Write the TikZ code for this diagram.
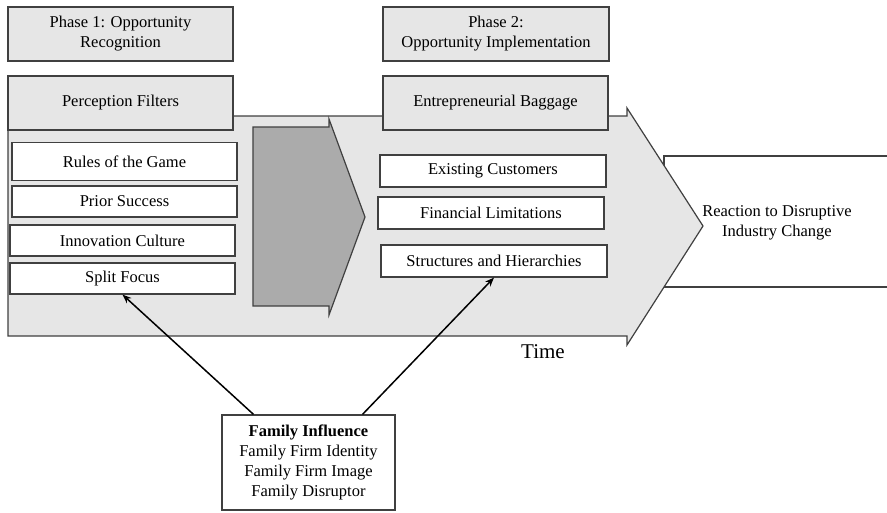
\documentclass[tikz,border=0pt]{standalone}
\usepackage{fontspec}
\setmainfont{Liberation Serif}
\usetikzlibrary{arrows.meta}
\definecolor{boxgray}{RGB}{230,230,230}
\definecolor{chevgray}{RGB}{171,171,171}
\definecolor{edgegray}{RGB}{64,64,64}
\tikzset{
	graybox/.style={draw=edgegray,fill=boxgray,line width=1.2pt,align=center,inner sep=0pt},
	whitebox/.style={draw=edgegray,fill=white,line width=1.2pt,align=center,inner sep=0pt},
}
\begin{document}
\begin{tikzpicture}[>={Stealth[length=9pt,width=7pt]},x=1pt,y=-1pt,font=\fontsize{16.5}{20}\selectfont]
	\useasboundingbox (0,0) rectangle (887,512);
	% outcome box, open to the right
	\draw[edgegray,line width=1.2pt,fill=white] (890,156)--(664,156)--(664,287)--(890,287);
	\node[align=center] (react) at (777,223) {Reaction to Disruptive\\Industry Change};
	% time arrow
	\draw[edgegray,line width=1.2pt,fill=boxgray] (8,116)--(627,116)--(627,108)--(703,226)%
	--(627,345)--(627,336)--(8,336)--cycle;
	\draw[edgegray,line width=1.2pt,fill=chevgray] (253,127)--(329,127)--(329,119)--(365,217)%
	--(329,315)--(329,306)--(253,306)--cycle;
	\node[font=\fontsize{21}{24}\selectfont] (time) at (543,352) {Time};
	% phases
	\node[graybox,minimum width=225pt,minimum height=54pt] (ph1) at (120.5,34) {Phase 1: Opportunity\\Recognition};
	\node[graybox,minimum width=226pt,minimum height=54pt] (ph2) at (496,34) {Phase 2:\\Opportunity Implementation};
	\node[graybox,minimum width=225pt,minimum height=54pt] (filt) at (120.5,103) {Perception Filters};
	\node[graybox,minimum width=225pt,minimum height=54pt] (bag) at (495.5,103) {Entrepreneurial Baggage};
	% perception filters
	\node[whitebox,minimum width=225pt,minimum height=38pt] (rules) at (124.5,161.5) {Rules of the Game};
	\node[whitebox,minimum width=225pt,minimum height=31pt] (prior) at (124.5,201.5) {Prior Success};
	\node[whitebox,minimum width=225pt,minimum height=31pt] (innov) at (122.5,240.5) {Innovation Culture};
	\node[whitebox,minimum width=225pt,minimum height=31pt] (split) at (122.5,278.5) {Split Focus};
	% entrepreneurial baggage
	\node[whitebox,minimum width=226pt,minimum height=32pt] (cust) at (493,171) {Existing Customers};
	\node[whitebox,minimum width=226pt,minimum height=32pt] (fin) at (491,213) {Financial Limitations};
	\node[whitebox,minimum width=226pt,minimum height=32pt] (struct) at (494,261) {Structures and Hierarchies};
	% family influence
	\node[whitebox,minimum width=173pt,minimum height=95pt,font=\fontsize{16.5}{20}\selectfont] (fam) at (308.5,462.5)%
	{\textbf{Family Influence}\\Family Firm Identity\\Family Firm Image\\Family Disruptor};
	\draw[->,line width=1.5pt] ([xshift=-55pt]fam.north)--(split.south);
	\draw[->,line width=1.5pt] ([xshift=54pt]fam.north)--(struct.south);
\end{tikzpicture}
\end{document}
